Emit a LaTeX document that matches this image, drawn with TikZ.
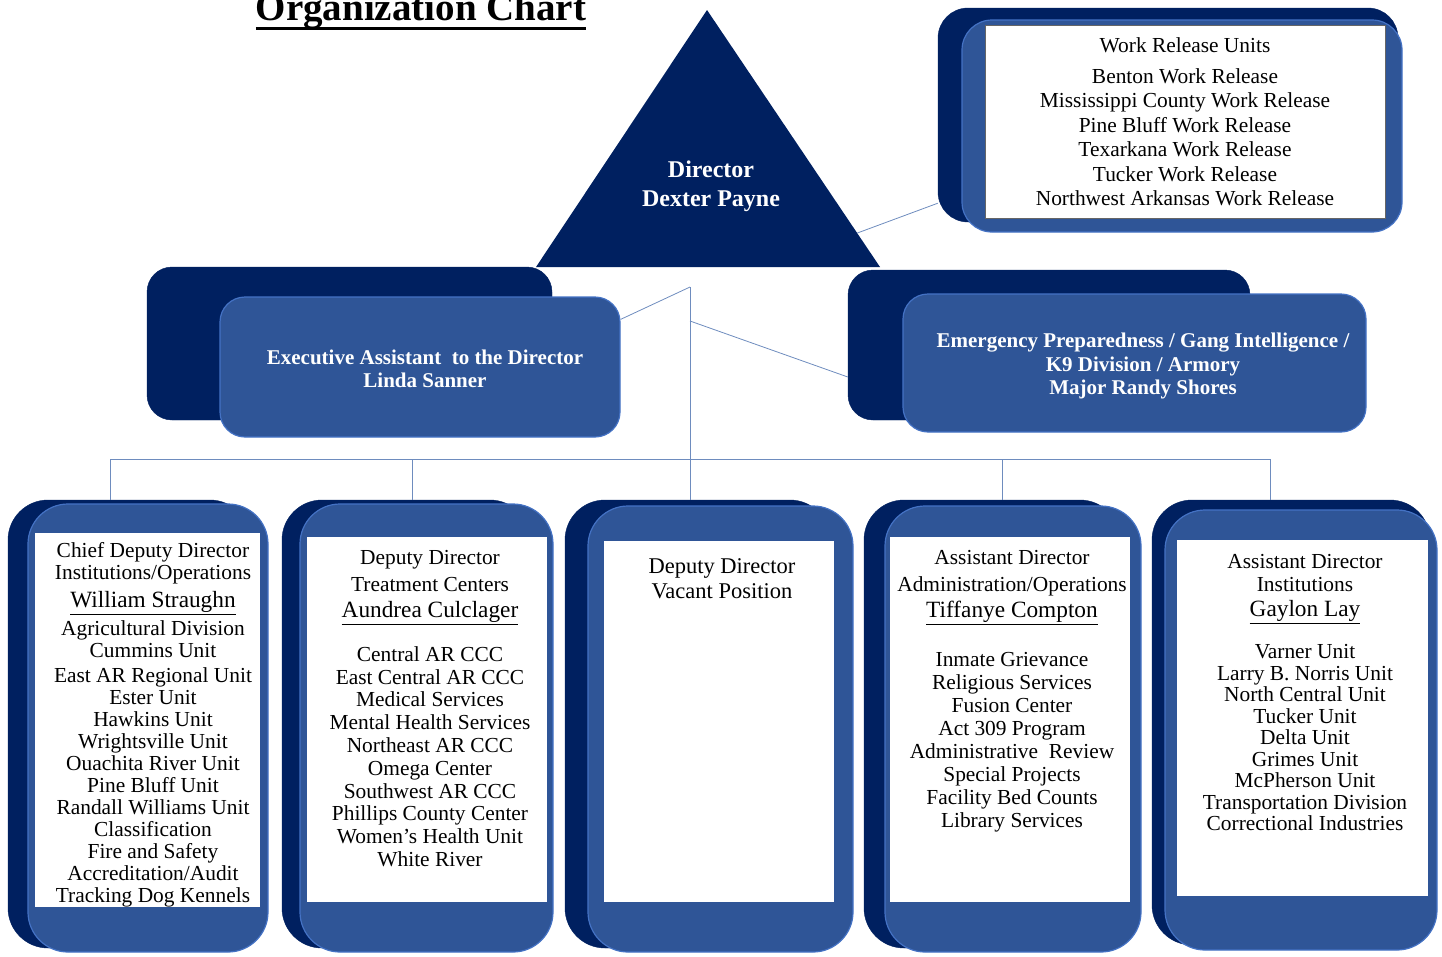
\documentclass[tikz,border=0pt]{standalone}
\usepackage{fontspec}
\setmainfont{Liberation Serif}
\usepackage{xcolor}
\usepackage{tikz}
\usetikzlibrary{calc}

\definecolor{Navy}{RGB}{0,32,96}
\definecolor{Mid-Blue}{RGB}{47,85,151}
\definecolor{Edge-Blue}{RGB}{68,114,196}
\definecolor{Link-Blue}{RGB}{110,140,190}

\newcommand{\StaffName}[1]{{\fontsize{23.3}{22}\selectfont\underline{#1}}}
\newcommand{\TitleLine}[1]{\leavevmode\vtop{\hbox{#1}\kern-1.5pt\hrule height 2.5pt}}

\begin{document}
\begin{tikzpicture}[x=1pt,y=-1pt,
  backbox/.style={fill=Navy,draw=Navy,rounded corners=40pt,inner sep=0pt},
  frontbox/.style={fill=Mid-Blue,draw=Edge-Blue,line width=1.2pt,rounded corners=40pt,inner sep=0pt},
  panel/.style={fill=white,inner sep=0pt},
  listtext/.style={align=center,inner sep=0pt,anchor=north},
  headtext/.style={align=center,inner sep=0pt,text=white},
  link/.style={draw=Link-Blue,line width=0.8pt}]
\useasboundingbox (0,0) rectangle (1442,956);

\node[name=Title,anchor=base,inner sep=0pt,font=\fontsize{39}{40}\selectfont\bfseries] at (421,20) {\TitleLine{Organization Chart}};

% director
\coordinate (Director-Apex) at (707,10);
\coordinate (Director-Left) at (536,267);
\coordinate (Director-Right) at (880,267);
\path[fill=Navy] (Director-Apex) -- (Director-Right) -- (Director-Left) -- cycle;
\node[name=Director,headtext,font=\fontsize{24}{29}\selectfont\bfseries] at (711,186) {Director\\Dexter Payne};

% work release units
\node[name=Work-Back,backbox,rounded corners=30pt,minimum width=460pt,minimum height=214pt] at (1168,115) {};
\node[name=Work-Front,frontbox,rounded corners=30pt,minimum width=440pt,minimum height=212pt] at (1182,126) {};
\node[name=Work-Panel,panel,draw=gray!80!black,minimum width=400pt,minimum height=193pt] at (1185,121.5) {};
\node[name=Work-Text,listtext,font=\fontsize{21.4}{24.5}\selectfont] at (1185,37) {Work Release Units\\[6.5pt]
  Benton Work Release\\Mississippi County Work Release\\Pine Bluff Work Release\\
  Texarkana Work Release\\Tucker Work Release\\Northwest Arkansas Work Release};

% executive assistant
\node[name=Exec-Back,backbox,rounded corners=25pt,minimum width=405pt,minimum height=153pt] at (349.5,343.5) {};
\node[name=Exec-Front,frontbox,rounded corners=25pt,minimum width=400pt,minimum height=140pt] at (420,367) {};
\node[name=Exec-Text,headtext,font=\fontsize{21}{23}\selectfont\bfseries] at (425,369) {Executive Assistant\ \ to the Director\\Linda Sanner};

% emergency preparedness
\node[name=Emergency-Back,backbox,rounded corners=25pt,minimum width=402pt,minimum height=150pt] at (1049,345) {};
\node[name=Emergency-Front,frontbox,rounded corners=25pt,minimum width=463pt,minimum height=138pt] at (1134.5,363) {};
\node[name=Emergency-Text,headtext,font=\fontsize{21}{23.5}\selectfont\bfseries] at (1143,366) {Emergency Preparedness / Gang Intelligence /\\K9 Division / Armory\\Major Randy Shores};

% chief deputy director
\node[name=Chief-Back,backbox,minimum width=242pt,minimum height=448pt] at (129,724) {};
\node[name=Chief-Front,frontbox,minimum width=240pt,minimum height=448pt] at (148,728) {};
\node[name=Chief-Panel,panel,minimum width=225pt,minimum height=374pt] at (147.5,720) {};
\node[name=Chief-Text,listtext,font=\fontsize{21.4}{22}\selectfont] at (153,542.5) {Chief Deputy Director\\Institutions/Operations\\[6pt]
  \StaffName{William Straughn}\\[6pt]
  Agricultural Division\\Cummins Unit\\[3pt]East AR Regional Unit\\Ester Unit\\Hawkins Unit\\
  Wrightsville Unit\\Ouachita River Unit\\Pine Bluff Unit\\Randall Williams Unit\\
  Classification\\Fire and Safety\\Accreditation/Audit\\Tracking Dog Kennels};

% deputy director treatment
\node[name=Treatment-Back,backbox,minimum width=248pt,minimum height=448pt] at (406,724) {};
\node[name=Treatment-Front,frontbox,minimum width=253pt,minimum height=448pt] at (426.5,728) {};
\node[name=Treatment-Panel,panel,minimum width=240pt,minimum height=365pt] at (427,719.5) {};
\node[name=Treatment-Text,listtext,font=\fontsize{21.4}{22.8}\selectfont] at (430,550.5) {Deputy Director\\[4pt]Treatment Centers\\[3pt]
  \StaffName{Aundrea Culclager}\\[21pt]
  Central AR CCC\\East Central AR CCC\\Medical Services\\Mental Health Services\\
  Northeast AR CCC\\Omega Center\\Southwest AR CCC\\Phillips County Center\\
  Women's Health Unit\\White River};

% deputy director vacant
\node[name=Vacant-Back,backbox,minimum width=265pt,minimum height=448pt] at (697.5,724) {};
\node[name=Vacant-Front,frontbox,minimum width=265pt,minimum height=446pt] at (720.5,729) {};
\node[name=Vacant-Panel,panel,minimum width=230pt,minimum height=361pt] at (719,721.5) {};
\node[name=Vacant-Text,listtext,font=\fontsize{22.5}{25}\selectfont] at (722,558) {Deputy Director\\Vacant Position};

% assistant director administration
\node[name=Admin-Back,backbox,minimum width=256pt,minimum height=448pt] at (992,724) {};
\node[name=Admin-Front,frontbox,minimum width=256pt,minimum height=446pt] at (1013,729) {};
\node[name=Admin-Panel,panel,minimum width=240pt,minimum height=365pt] at (1010,719.5) {};
\node[name=Admin-Text,listtext,font=\fontsize{21.4}{23}\selectfont] at (1012,550.5) {Assistant Director\\[4pt]Administration/Operations\\[3pt]
  \StaffName{Tiffanye Compton}\\[26pt]
  Inmate Grievance\\Religious Services\\Fusion Center\\Act 309 Program\\
  Administrative\ \ Review\\Special Projects\\Facility Bed Counts\\Library Services};

% assistant director institutions
\node[name=Institutions-Back,backbox,minimum width=278pt,minimum height=445pt] at (1291,722.5) {};
\node[name=Institutions-Front,frontbox,minimum width=272pt,minimum height=440pt] at (1301,730) {};
\node[name=Institutions-Panel,panel,minimum width=251pt,minimum height=356pt] at (1302.5,718) {};
\node[name=Institutions-Text,listtext,font=\fontsize{21.4}{21.5}\selectfont] at (1305,554.5) {Assistant Director\\[1.5pt]Institutions\\[3.5pt]
  \StaffName{Gaylon Lay}\\[20.5pt]
  Varner Unit\\Larry B. Norris Unit\\North Central Unit\\Tucker Unit\\Delta Unit\\
  Grimes Unit\\McPherson Unit\\Transportation Division\\Correctional Industries};

% connectors
\coordinate (Director-Side) at ($(Director-Apex)!0.868!(Director-Right)$);
\coordinate (Trunk-Top) at (690,287);
\coordinate (Trunk-Mid) at (690,321);
\coordinate (Bus-Left) at (110,459);
\coordinate (Bus-Treatment) at (412,459);
\coordinate (Bus-Admin) at (1002,459);
\coordinate (Bus-Right) at (1270,459);

\draw[link] (Director-Side) -- ([yshift=19pt]Work-Back.south west);
\draw[link] (Trunk-Top) -- ([yshift=-23pt]Exec-Front.north east);
\draw[link] (Trunk-Mid) -- ([yshift=-32pt]Emergency-Back.west);
\draw[link] (Trunk-Top) -- (Trunk-Top |- Vacant-Back.north);
\draw[link] (Bus-Left) -- (Bus-Right);
\draw[link] (Bus-Left) -- (Bus-Left |- Chief-Back.north);
\draw[link] (Bus-Treatment) -- (Bus-Treatment |- Treatment-Back.north);
\draw[link] (Bus-Admin) -- (Bus-Admin |- Admin-Back.north);
\draw[link] (Bus-Right) -- (Bus-Right |- Institutions-Back.north);
\end{tikzpicture}
\end{document}
